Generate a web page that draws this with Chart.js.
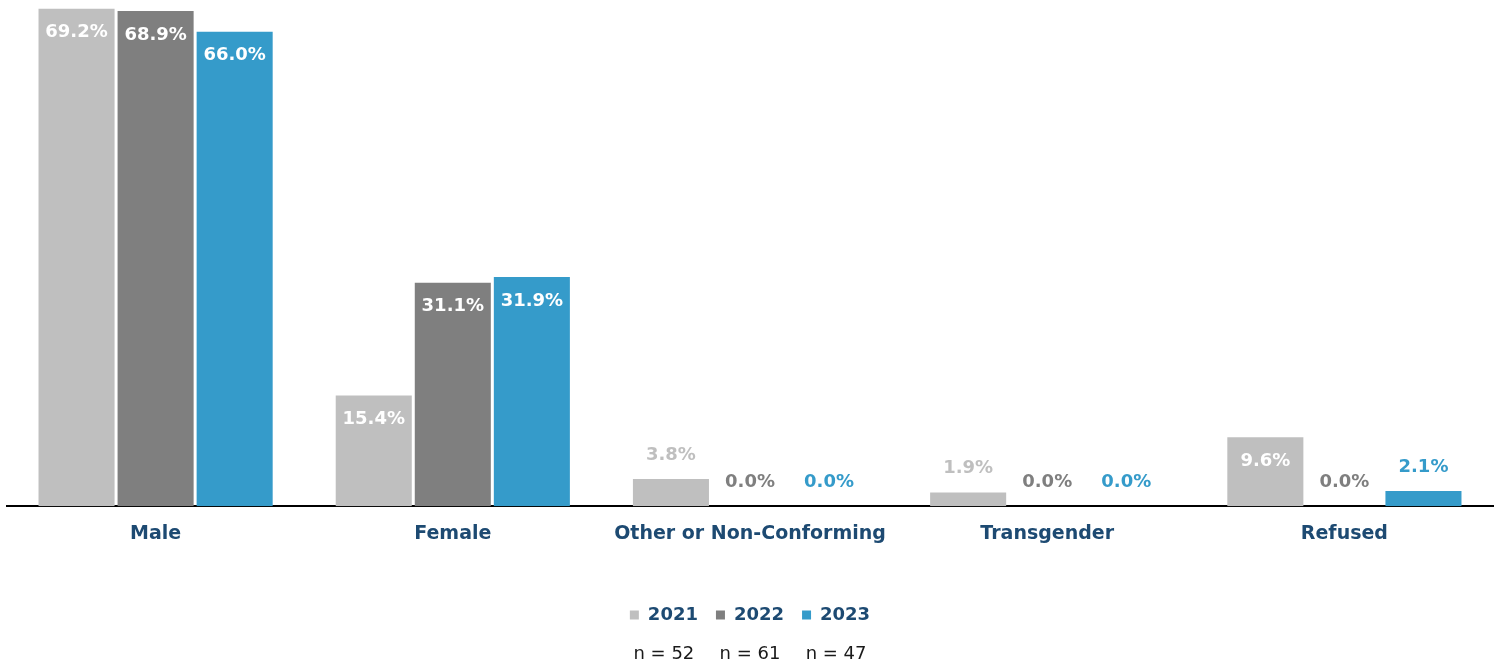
<!DOCTYPE html>
<html>
<head>
<meta charset="utf-8">
<script src="https://cdn.jsdelivr.net/npm/chart.js@4"></script>
<style>
  html, body { margin: 0; padding: 0; background: #fff; }
  #wrap { width: 1499px; height: 665px; }
</style>
</head>
<body>
<div id="wrap"><canvas id="myChart" width="1499" height="665"></canvas></div>
<script>
const categories = ['Male', 'Female', 'Other or Non-Conforming', 'Transgender', 'Refused'];
const years = ['2021', '2022', '2023'];
const sampleSizes = ['n = 52', 'n = 61', 'n = 47'];
const values2021 = [69.2, 15.4, 3.8, 1.9, 9.6];
const values2022 = [68.9, 31.1, 0.0, 0.0, 0.0];
const values2023 = [66.0, 31.9, 0.0, 0.0, 2.1];

const colors = ['#bfbfbf', '#7f7f7f', '#359bca'];
const navy = '#1d4a72';
const fontFamily = '"DejaVu Sans", sans-serif';

// value labels: white inside tall bars, coloured above short ones
const valueLabels = {
  id: 'valueLabels',
  afterDatasetsDraw(chart) {
    const ctx = chart.ctx;
    ctx.save();
    ctx.font = 'bold 18px ' + fontFamily;
    ctx.textAlign = 'center';
    ctx.textBaseline = 'middle';
    chart.data.datasets.forEach((ds, i) => {
      chart.getDatasetMeta(i).data.forEach((bar, j) => {
        const v = ds.data[j];
        const text = v.toFixed(1) + '%';
        if (v >= 8) {
          ctx.fillStyle = '#ffffff';
          ctx.fillText(text, bar.x, bar.y + 24);
        } else {
          ctx.fillStyle = colors[i];
          ctx.fillText(text, bar.x, bar.y - 24);
        }
      });
    });
    ctx.restore();
  }
};

// "n = .." line under each legend item
const sampleRow = {
  id: 'sampleRow',
  afterDraw(chart) {
    const boxes = chart.legend.legendHitBoxes;
    const ctx = chart.ctx;
    ctx.save();
    ctx.font = '18px ' + fontFamily;
    ctx.fillStyle = '#1a1a1a';
    ctx.textAlign = 'center';
    ctx.textBaseline = 'middle';
    boxes.forEach((b, i) => {
      ctx.fillText(sampleSizes[i], b.left + b.width / 2, b.top + b.height / 2 + 39);
    });
    ctx.restore();
  }
};

const ctx = document.getElementById('myChart');

new Chart(ctx, {
  type: 'bar',
  data: {
    labels: categories,
    datasets: [values2021, values2022, values2023].map((data, i) => ({
      label: years[i],
      data: data,
      backgroundColor: colors[i],
      borderWidth: 0,
      categoryPercentage: 0.798,
      barPercentage: 0.962,
    })),
  },
  options: {
    responsive: false,
    animation: false,
    layout: { padding: { left: 7, right: 6, top: 3, bottom: 31 } },
    scales: {
      x: {
        grid: { display: false, drawTicks: false },
        border: { display: true, color: '#000000', width: 2 },
        ticks: {
          color: navy,
          padding: 16,
          font: { family: fontFamily, size: 19, weight: 'bold' },
        },
        afterFit(scale) {
          scale.height += 27;
        },
      },
      y: {
        display: false,
        min: 0,
        max: 70,
      },
    },
    plugins: {
      legend: {
        position: 'bottom',
        labels: {
          color: navy,
          boxWidth: 9,
          boxHeight: 9,
          padding: 18,
          font: { family: fontFamily, size: 18, weight: 'bold' },
        },
      },
      tooltip: { enabled: false },
    },
  },
  plugins: [valueLabels, sampleRow],
});
</script>
</body>
</html>
